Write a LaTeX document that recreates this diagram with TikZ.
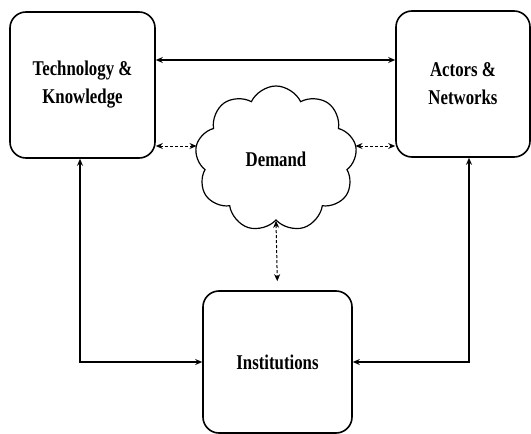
\documentclass[tikz,border=0pt]{standalone}
\usepackage{fontspec}
\setmainfont{Liberation Serif}
\newfontfamily\labelfont[FakeStretch=0.8]{Liberation Serif}
\usetikzlibrary{calc,positioning,arrows,arrows.meta,shapes,shapes.symbols}
\tikzstyle{link}=[>={Stealth[length=7pt,width=6pt]},line width=1.1pt]
\tikzstyle{faint}=[dashed,dash pattern=on 3pt off 2pt]
\tikzstyle{block}=[rectangle,rounded corners=16pt,draw,line width=1.6pt,align=center,
  font=\labelfont\bfseries\fontsize{21}{28}\selectfont]

\begin{document}
\begin{tikzpicture}[
    x=1pt,y=-1pt,
    twoway/.style={link,<->},
    loose/.style={link,<->,faint,line width=1pt},
    puff/.style={cloud,draw,line width=1.2pt,cloud puffs=9,cloud puff arc=130,
      minimum width=162pt,minimum height=146pt,aspect=1.05,
      font=\labelfont\bfseries\fontsize{21}{24}\selectfont}
    ]
    \useasboundingbox (0,0) rectangle (531,434);

    \node [block,minimum width=145pt,minimum height=146pt] (tech) at (82.5,85) {Technology \&\\Knowledge};
    \node [block,minimum width=134pt,minimum height=146pt] (act) at (463,84) {Actors \&\\Networks};
    \node [block,minimum width=149pt,minimum height=142pt] (inst) at (277.5,362) {Institutions};
    \node [puff] (dem) at (276,159) {Demand};

    % top link
    \draw [twoway] ([yshift=25pt]tech.east) -- ([yshift=25pt]tech.east -| act.west);

    % demand links
    \draw [loose] ([yshift=-61pt]tech.east) -- ([yshift=-61pt]tech.east -| dem.west);
    \draw [loose] ([yshift=-61pt]tech.east -| dem.east) -- ([yshift=-61pt]tech.east -| act.west);
    \draw [loose,shorten >=9pt] (dem.south) -- (inst.north);

    % institutions
    \draw [twoway] ([xshift=-2.5pt]tech.south) |- (inst.west);
    \draw [twoway] ([xshift=6pt]act.south) |- (inst.east);
\end{tikzpicture}
\end{document}
